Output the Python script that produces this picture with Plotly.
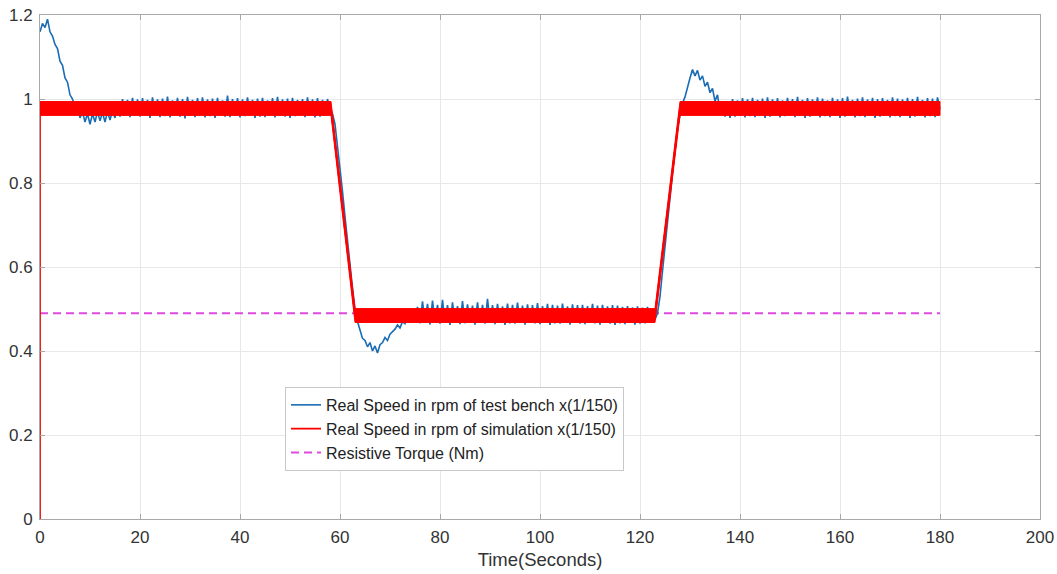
import numpy as np
import plotly.graph_objects as go

# ---------------- data ----------------
# Test-bench speed (x1/150), sampled every 0.5 s, split into segments (start time, values)
bench_start_0 = [1.16, 1.18, 1.17, 1.19, 1.16, 1.15, 1.13, 1.12, 1.09, 1.08,
                 1.05, 1.04, 1.01, 1.00, 0.98, 0.985, 0.955, 0.97, 0.945, 0.965,
                 0.94, 0.965, 0.945, 0.97, 0.948, 0.968, 0.945, 0.97, 0.95, 0.972,
                 0.955, 0.99, 0.958, 1.0, 0.96, 0.998, 0.957, 1.003, 0.96, 0.999]
bench_high_20 = [0.958, 1.002, 0.96, 0.998, 0.955, 1.004, 0.962, 0.999, 0.957, 1.001,
                 0.959, 1.006, 0.956, 0.997, 0.961, 1.003, 0.958, 1.0, 0.954, 1.005,
                 0.96, 0.998, 0.957, 1.002, 0.962, 1.004, 0.956, 0.999, 0.959, 1.001,
                 0.955, 1.003, 0.961, 0.997, 0.958, 1.008, 0.957, 1.0, 0.96, 1.002,
                 0.956, 0.999, 0.959, 1.004, 0.962, 0.998, 0.955, 1.001, 0.958, 1.003,
                 0.957, 0.997, 0.96, 1.002, 0.956, 1.005, 0.961, 0.999, 0.958, 1.001,
                 0.955, 1.003, 0.959, 0.998, 0.962, 1.0, 0.957, 1.004, 0.96, 0.999,
                 0.956, 1.002, 0.958, 0.998, 0.96, 1.0, 0.97]
bench_down_58_5 = [0.965, 0.94, 0.89, 0.84, 0.78, 0.72, 0.66, 0.60, 0.55, 0.50,
                   0.47, 0.45, 0.43, 0.425, 0.41, 0.42, 0.40, 0.412, 0.395, 0.415,
                   0.42, 0.432, 0.425, 0.44, 0.445, 0.452, 0.462, 0.455, 0.47, 0.465,
                   0.48, 0.47, 0.49, 0.475, 0.505]
bench_low_76 = [0.466, 0.518, 0.468, 0.512, 0.463, 0.52, 0.47, 0.51, 0.465, 0.522,
                0.467, 0.509, 0.462, 0.516, 0.469, 0.507, 0.464, 0.519, 0.466, 0.511,
                0.47, 0.508, 0.463, 0.516, 0.467, 0.51, 0.465, 0.524, 0.468, 0.509,
                0.464, 0.512, 0.469, 0.506, 0.462, 0.513, 0.466, 0.51, 0.465, 0.515,
                0.468, 0.508, 0.463, 0.511, 0.467, 0.509, 0.466, 0.514, 0.464, 0.507,
                0.469, 0.512, 0.462, 0.51, 0.466, 0.508, 0.465, 0.513, 0.468, 0.506,
                0.463, 0.511, 0.467, 0.509, 0.465, 0.51, 0.464, 0.507, 0.468, 0.512,
                0.466, 0.508, 0.463, 0.51, 0.467, 0.506, 0.465, 0.509, 0.462, 0.508,
                0.466, 0.505, 0.464, 0.507, 0.467, 0.504, 0.463, 0.506, 0.465, 0.503,
                0.466, 0.505, 0.47, 0.49]
bench_up_123 = [0.475, 0.49, 0.53, 0.59, 0.65, 0.71, 0.77, 0.83, 0.88, 0.93,
                0.965, 0.99, 1.005, 1.03, 1.05, 1.07, 1.055, 1.068, 1.045, 1.055,
                1.03, 1.04, 1.015, 1.025, 0.995, 1.01, 0.97, 0.995, 0.958, 0.99]
bench_high_138 = [0.955, 1.0, 0.958, 0.997, 0.96, 1.002, 0.956, 0.999, 0.959, 1.003,
                  0.957, 0.998, 0.961, 1.001, 0.955, 1.004, 0.958, 0.999, 0.96, 1.002,
                  0.956, 0.997, 0.959, 1.003, 0.962, 1.0, 0.957, 1.005, 0.96, 0.998,
                  0.955, 1.002, 0.958, 0.999, 0.961, 1.004, 0.956, 1.001, 0.959, 0.997,
                  0.957, 1.003, 0.96, 0.999, 0.955, 1.002, 0.958, 1.006, 0.961, 0.998,
                  0.956, 1.001, 0.959, 1.004, 0.957, 0.999, 0.96, 1.003, 0.955, 1.0,
                  0.958, 1.002, 0.961, 0.998, 0.956, 1.004, 0.959, 1.001, 0.957, 0.999,
                  0.96, 1.003, 0.955, 1.0, 0.958, 1.005, 0.961, 0.998, 0.956, 1.002,
                  0.959, 1.001, 0.957, 1.004, 0.975]
bench_segments = [(0.0, bench_start_0), (20.0, bench_high_20), (58.5, bench_down_58_5),
                  (76.0, bench_low_76), (123.0, bench_up_123), (138.0, bench_high_138)]
bench_dt = 0.5

# Simulation speed (x1/150): centre line and ripple envelope
sim_t = [0, 0, 58.2, 63, 123, 128, 180]
sim_v = [0, 0.977, 0.977, 0.485, 0.485, 0.977, 0.977]
sim_env_t = [0, 58.2, 63, 123, 128, 180]
sim_env_upper = [0.994, 0.994, 0.501, 0.501, 0.994, 0.994]
sim_env_lower = [0.961, 0.961, 0.468, 0.468, 0.961, 0.961]

# Resistive torque
torque_t = [0, 180]
torque_v = [0.49, 0.49]

x_ticks = list(range(0, 201, 20))
y_ticks = [0, 0.2, 0.4, 0.6, 0.8, 1, 1.2]

# ---------------- build ----------------
bench_t, bench_v = [], []
for start, vals in bench_segments:
    bench_t += [start + bench_dt * i for i in range(len(vals))]
    bench_v += vals

FONT = "Arial, 'Liberation Sans', Helvetica, sans-serif"
fig = go.Figure()

fig.add_trace(go.Scatter(x=torque_t, y=torque_v, mode="lines",
                         line=dict(color="#DD4ADD", width=2, dash="8px,5px"),
                         name="Resistive Torque (Nm)", legendrank=3))
fig.add_trace(go.Scatter(x=bench_t, y=bench_v, mode="lines",
                         line=dict(color="#1A6DB5", width=1.6),
                         name="Real Speed in rpm of test bench x(1/150)", legendrank=1))
fig.add_trace(go.Scatter(x=sim_env_t + sim_env_t[::-1],
                         y=sim_env_upper + sim_env_lower[::-1],
                         mode="lines", fill="toself", fillcolor="#FF0000",
                         line=dict(color="#FF0000", width=1),
                         showlegend=False, hoverinfo="skip"))
fig.add_trace(go.Scatter(x=sim_t, y=sim_v, mode="lines",
                         line=dict(color="#FF0000", width=1.8),
                         name="Real Speed in rpm of simulation x(1/150)", legendrank=2))

axis_common = dict(showgrid=True, gridcolor="#E8E8E8", gridwidth=1,
                   showline=True, linecolor="#A8A8A8", linewidth=1, mirror="ticks",
                   ticks="inside", ticklen=5, tickcolor="#A8A8A8",
                   zeroline=False, ticklabeloverflow="allow", automargin=False,
                   tickfont=dict(family=FONT, size=17, color="#333333"))

fig.update_layout(
    width=1057, height=574,
    margin=dict(l=40, r=17, t=15, b=55, autoexpand=False),
    paper_bgcolor="white", plot_bgcolor="white",
    font=dict(family=FONT, color="#333333"),
    xaxis=dict(range=[0, 200], tickvals=x_ticks, ticklabelstandoff=3,
               title=dict(text="Time(Seconds)", font=dict(family=FONT, size=18.5, color="#333333"),
                          standoff=6),
               **axis_common),
    yaxis=dict(range=[0, 1.2], tickvals=y_ticks, ticklabelstandoff=3, **axis_common),
    legend=dict(x=0.245, y=0.262, xanchor="left", yanchor="top",
                bgcolor="white", bordercolor="#C8C8C8", borderwidth=1,
                font=dict(family=FONT, size=16, color="#222222"),
                tracegroupgap=0, traceorder="normal"),
    showlegend=True,
)

fig.write_html("out.html", config={"displayModeBar": False},
               post_script="document.body.style.margin='0';document.body.style.overflow='hidden';")
